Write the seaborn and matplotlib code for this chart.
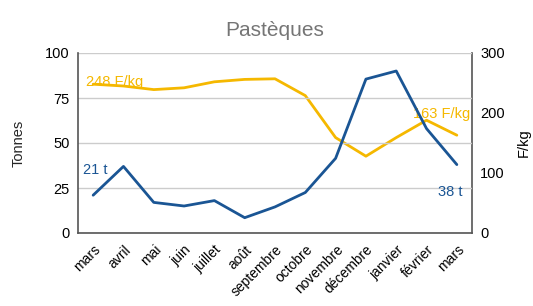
import matplotlib
matplotlib.use("Agg")
import matplotlib.pyplot as plt
import seaborn as sns
import pandas as pd

months = ["mars", "avril", "mai", "juin", "juillet", "août", "septembre",
          "octobre", "novembre", "décembre", "janvier", "février", "mars"]
tonnes = [21, 37, 17, 15, 18, 8.5, 14.5, 22.5, 41.5, 85.5, 90, 58, 38]
prix = [248, 245, 239, 242, 252, 256, 257, 229, 159, 128, 159, 188, 163]

sns.set_theme(style="white")
plt.rcParams['font.family'] = ['Liberation Sans', 'DejaVu Sans']

BLUE = "#1a5594"
GOLD = "#f5b800"
GRID = "#cccccc"
SPINE = "#555555"

df = pd.DataFrame({"x": range(len(months)), "tonnes": tonnes, "prix": prix})

fig = plt.figure(figsize=(5.33, 3.06), dpi=100)
ax = fig.add_axes([78/533, 1 - 233/306, (472-78)/533, 180/306])
ax2 = ax.twinx()

sns.lineplot(data=df, x="x", y="prix", ax=ax2, color=GOLD, linewidth=2)
sns.lineplot(data=df, x="x", y="tonnes", ax=ax, color=BLUE, linewidth=2)
ax.set_zorder(ax2.get_zorder() + 1)
ax.patch.set_visible(False)

ax.set_xlim(-0.5, len(months) - 0.5)
ax.set_ylim(0, 100)
ax2.set_ylim(0, 300)
ax.set_yticks([0, 25, 50, 75, 100])
ax2.set_yticks([0, 100, 200, 300])
ax.set_xticks(range(len(months)))
ax.set_xticklabels(months, rotation=45, ha="right", rotation_mode="anchor", fontsize=10)
ax.yaxis.grid(True, color=GRID, linewidth=1)
ax.set_axisbelow(True)

for a in (ax, ax2):
    for s in a.spines.values():
        s.set_visible(False)
ax.spines["left"].set_visible(True)
ax.spines["bottom"].set_visible(True)
ax2.spines["right"].set_visible(True)
for s in (ax.spines["left"], ax.spines["bottom"], ax2.spines["right"]):
    s.set_color(SPINE)
    s.set_linewidth(1.2)

ax.tick_params(axis="y", labelsize=10.5, length=0, pad=6, colors="#000000")
ax.tick_params(axis="x", length=0, pad=7, colors="#000000")
ax2.tick_params(axis="y", labelsize=10.5, length=0, pad=6, colors="#000000")

ax.set_xlabel("")
ax.set_ylabel("Tonnes", fontsize=10.5, labelpad=14)
ax2.set_ylabel("")
fig.text(524/533, 1 - 143/306, "F/kg", rotation=90, fontsize=10.5,
         ha="center", va="center", color="#000000")

ax.set_title("Pastèques", fontsize=15, color="#757575", pad=12)

ax2.text(-0.25, prix[0] + 4, f"{prix[0]} F/kg", color=GOLD, fontsize=10.5,
         ha="left", va="center", zorder=5)
ax2.text(len(months) - 1 + 0.45, prix[-1] + 35, f"{prix[-1]} F/kg", color=GOLD,
         fontsize=10.5, ha="right", va="center", zorder=5)
ax.text(-0.35, tonnes[0] + 14, f"{tonnes[0]:.0f} t", color=BLUE, fontsize=10.5,
        ha="left", va="center", zorder=5)
ax.text(len(months) - 1 + 0.2, tonnes[-1] - 15, f"{tonnes[-1]:.0f} t", color=BLUE,
        fontsize=10.5, ha="right", va="center", zorder=5)

fig.savefig("out.png", dpi=100)
